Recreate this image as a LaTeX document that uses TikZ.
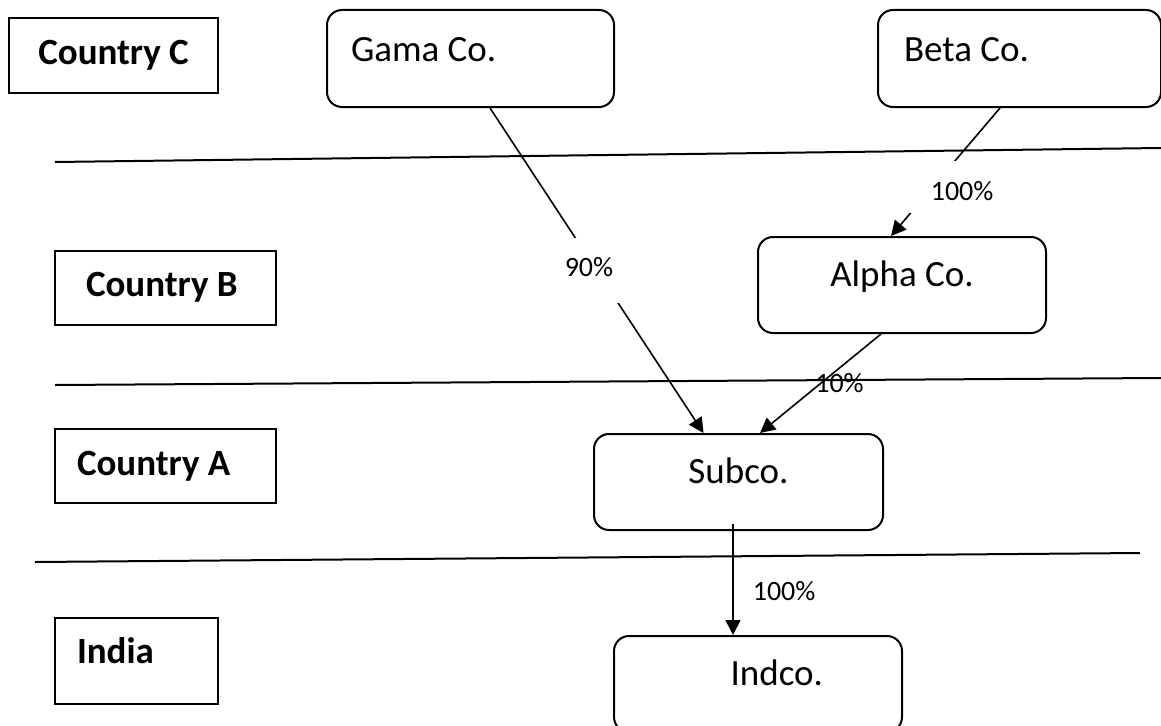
\documentclass[tikz,border=0pt]{standalone}
\usepackage{fontspec}
\setmainfont{Carlito}
\usetikzlibrary{arrows.meta}

\begin{document}
\begin{tikzpicture}[x=1pt, y=-1pt,
  >={Triangle[length=15pt, width=15pt]},
  region/.style={draw, line width=2pt, anchor=north west, inner ysep=0pt, font=\fontsize{37}{44}\selectfont\bfseries},
  firm/.style={draw, line width=2pt, rounded corners=15pt, anchor=north west, inner ysep=0pt, font=\fontsize{37}{44}\selectfont},
  share/.style={font=\fontsize{28}{34}\selectfont, inner sep=0pt},
  gap/.style={share, fill=white},
  link/.style={->, line width=1.6pt}]
\clip (0,0) rectangle (1161,725);

% Borders between countries %
\draw[line width=2pt] (55,162) -- (1161,148);
\draw[line width=2pt] (55,385) -- (1161,378);
\draw[line width=2pt] (35,562) -- (1140,553);

% Countries %
\node[region, minimum width=209pt, minimum height=75pt, text height=26pt, text depth=9pt] (cc) at (8,17) {Country C};
\node[region, text width=159pt, inner xsep=31pt, align=flush left, minimum height=74pt, text height=26pt, text depth=10pt] (cb) at (54,250) {Country B};
\node[region, text width=177pt, inner xsep=22pt, align=flush left, minimum height=74pt, text height=26pt, text depth=8pt] (ca) at (54,428) {Country A};
\node[region, text width=119pt, inner xsep=22pt, align=flush left, minimum height=86pt, text height=26pt, text depth=22pt] (in) at (54,617) {India};

% Companies %
\node[firm, text width=239pt, inner xsep=24pt, align=flush left, minimum height=97pt, text height=26pt, text depth=21pt] (gama) at (326,9) {Gama Co.};
\node[firm, text width=231pt, inner xsep=26pt, align=flush left, minimum height=97pt, text height=26pt, text depth=21pt] (beta) at (877,9) {Beta Co.};
\node[firm, minimum width=288pt, minimum height=96pt, text height=26pt, text depth=24pt] (alpha) at (757,236) {Alpha Co.};
\node[firm, minimum width=289pt, minimum height=96pt, text height=26pt, text depth=24pt] (subco) at (593,433) {Subco.};
\node[firm, text width=130pt, inner xsep=79pt, align=flush right, minimum height=96pt, text height=26pt, text depth=24pt] (indco) at (613,635) {Indco.};

% Holdings %
\draw[link] ([xshift=19.5pt]gama.south) -- node[gap, text width=64pt, align=flush left, minimum height=65pt, text height=20pt, text depth=9pt] (p90) {90\%} ([xshift=-35pt]subco.north);
\draw[link] ([xshift=-19.5pt]beta.south) -- node[gap, pos=0.62, text width=122pt, align=flush right, minimum height=52pt, text height=30pt, text depth=4pt] (p100b) {100\%} ([xshift=-11pt]alpha.north);
\draw[link] ([xshift=-21pt]alpha.south) -- node[share, xshift=19pt] (p10) {10\%} ([xshift=21.5pt]subco.north);
\draw[link] ([xshift=-5.5pt, yshift=7pt]subco.south) -- node[share, pos=0.6, right=19pt] (p100i) {100\%} ([xshift=-25pt]indco.north);

\end{tikzpicture}
\end{document}
